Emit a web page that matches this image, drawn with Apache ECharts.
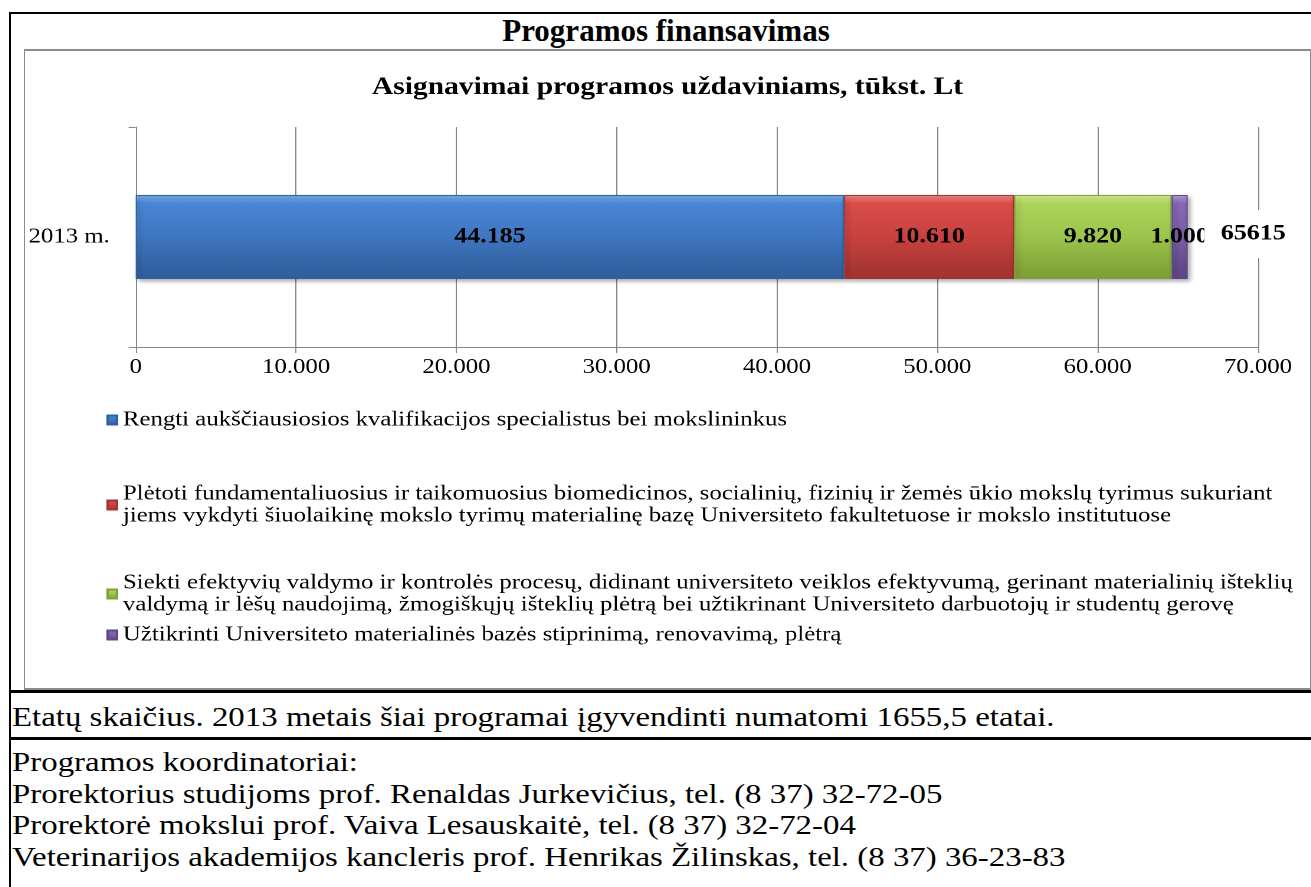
<!DOCTYPE html>
<html>
<head>
<meta charset="utf-8">
<script src="https://cdn.jsdelivr.net/npm/echarts@6/dist/echarts.min.js"></script>
<style>
  body { margin: 0; background: #fff; font-family: "Liberation Serif", "Times New Roman", serif; }
  .page { position: relative; width: 1311px; height: 887px; overflow: hidden; }
  .line { position: absolute; background: #000; }
  .txt { position: absolute; left: 12px; font-size: 28px; line-height: 31.5px; color: #000; white-space: nowrap;
         transform: scaleX(1.174); transform-origin: 0 0; }
  #box { position: absolute; left: 24px; top: 49px; width: 1285px; height: 637px;
         border-top: 2px solid #8c8c8c; border-bottom: 2px solid #8c8c8c;
         border-left: 1px solid #8c8c8c; border-right: 1px solid #8c8c8c; }
  /* Excel paveikslėlis ištemptas horizontaliai, todėl ir diagrama ištempiama */
  #chart { width: 1089px; height: 637px; transform: scaleX(1.18); transform-origin: 0 0; }
</style>
</head>
<body>
<div class="page">
  <div class="line" style="left:9px; top:12px; width:2px; height:875px"></div>
  <div class="line" style="left:9px; top:12px; width:1302px; height:2px"></div>
  <div style="position:absolute; left:11px; width:1310px; top:14px; text-align:center; font-weight:bold; font-size:31px; line-height:34px">Programos finansavimas</div>
  <div id="box"><div id="chart"></div></div>
  <div class="line" style="left:9px; top:690px; width:1302px; height:3px"></div>
  <div class="txt" style="top:701px">Etatų skaičius. 2013 metais šiai programai įgyvendinti numatomi 1655,5 etatai.</div>
  <div class="line" style="left:9px; top:737px; width:1302px; height:3px"></div>
  <div class="txt" style="top:746px">Programos koordinatoriai:<br>Prorektorius studijoms prof. Renaldas Jurkevičius, tel. (8 37) 32-72-05<br>Prorektorė mokslui prof. Vaiva Lesauskaitė, tel. (8 37) 32-72-04<br>Veterinarijos akademijos kancleris prof. Henrikas Žilinskas, tel. (8 37) 36-23-83</div>
</div>
<script>
// duomenys
const categories = ['2013 m.']
const seriesNames = [
  'Rengti aukščiausiosios kvalifikacijos specialistus bei mokslininkus',
  'Plėtoti fundamentaliuosius ir taikomuosius biomedicinos, socialinių, fizinių ir žemės ūkio mokslų tyrimus sukuriant\njiems vykdyti šiuolaikinę mokslo tyrimų materialinę bazę Universiteto fakultetuose ir mokslo institutuose',
  'Siekti efektyvių valdymo ir kontrolės procesų, didinant universiteto veiklos efektyvumą, gerinant materialinių išteklių\nvaldymą ir lėšų naudojimą, žmogiškųjų išteklių plėtrą bei užtikrinant Universiteto darbuotojų ir studentų gerovę',
  'Užtikrinti Universiteto materialinės bazės stiprinimą, renovavimą, plėtrą'
]
const rengti = [44185]
const pletoti = [10610]
const siekti = [9820]
const uztikrinti = [1000]
const xTicks = [0, 10000, 20000, 30000, 40000, 50000, 60000, 70000]

// spalvos ir legendos vietos
const colors = [
  ['#80b4f2', '#4a86d6', '#3f76c0', '#30609f'],
  ['#f78c8a', '#da4d4a', '#c8423f', '#a53532'],
  ['#def79a', '#abd45b', '#9dc44c', '#80a338'],
  ['#bca4e3', '#8868b6', '#7b5ca6', '#614787']
]
const legendTop = [358, 421, 510, 573]
const font = '"Liberation Serif", "Times New Roman", serif'

const fmt = v => {
  if (v < 1000) return String(v)
  const s = String(v)
  return s.slice(0, s.length - 3) + '.' + s.slice(s.length - 3)
}

const values = [rengti, pletoti, siekti, uztikrinti]
const totals = categories.map((c, i) => values.reduce((a, arr) => a + arr[i], 0))

const grad = c => new echarts.graphic.LinearGradient(0, 0, 0, 1, [
  { offset: 0, color: c[0] },
  { offset: 0.1, color: c[1] },
  { offset: 0.5, color: c[2] },
  { offset: 0.92, color: c[3] },
  { offset: 1, color: c[3] }
])

const series = values.map((arr, i) => ({
  name: seriesNames[i],
  type: 'bar',
  stack: 'total',
  barWidth: 84,
  data: arr,
  itemStyle: {
    color: grad(colors[i]),
    borderColor: colors[i][3],
    borderWidth: 1,
    shadowColor: 'rgba(0,0,0,0.35)',
    shadowBlur: 4,
    shadowOffsetX: 2,
    shadowOffsetY: 2
  },
  label: {
    show: true,
    position: 'inside',
    formatter: p => fmt(p.value),
    color: '#000',
    fontFamily: font,
    fontWeight: 'bold',
    fontSize: 22
  }
}))

// suma šalia juostos (baltas fonas uždengia tinklelį ir dalį "1.000")
series.push({
  type: 'scatter',
  symbolSize: 0,
  data: categories.map((c, i) => [totals[i], c]),
  itemStyle: { opacity: 1 },
  label: {
    show: true,
    position: 'right',
    distance: 14,
    formatter: p => String(p.value[0]),
    color: '#000',
    opacity: 1,
    fontFamily: font,
    fontWeight: 'bold',
    fontSize: 22,
    backgroundColor: '#fff',
    padding: [13, 6, 13, 14],
    offset: [0, -3]
  },
  z: 5
})

const option = {
  animation: false,
  title: {
    text: 'Asignavimai programos uždaviniams, tūkst. Lt',
    left: 'center',
    top: 19,
    textStyle: { fontFamily: font, fontWeight: 'bold', fontSize: 25, color: '#000' }
  },
  legend: seriesNames.map((n, i) => ({
    data: [n],
    left: 69,
    top: legendTop[i],
    padding: 0,
    icon: 'rect',
    itemWidth: 8,
    itemHeight: 9,
    selectedMode: false,
    textStyle: {
      fontFamily: font,
      fontSize: 21,
      color: '#000',
      lineHeight: 22,
      padding: n.indexOf('\n') >= 0 ? [22, 0, 0, 0] : 0
    }
  })),
  grid: { left: 92.4, right: 44.1, top: 76, height: 220 },
  xAxis: {
    type: 'value',
    min: xTicks[0],
    max: xTicks[xTicks.length - 1],
    interval: xTicks[1] - xTicks[0],
    axisLine: { show: true, lineStyle: { color: '#868686' } },
    axisTick: { show: true, length: 6, lineStyle: { color: '#868686' } },
    splitLine: { lineStyle: { color: '#868686' } },
    axisLabel: { formatter: fmt, margin: 10, color: '#000', fontFamily: font, fontSize: 21 }
  },
  yAxis: {
    type: 'category',
    data: categories,
    axisLine: { show: true, lineStyle: { color: '#868686' } },
    axisTick: { show: true, length: 6, lineStyle: { color: '#868686' } },
    axisLabel: { margin: 22, color: '#000', fontFamily: font, fontSize: 21 }
  },
  series: series
}

const chart = echarts.init(document.getElementById('chart'), null, { devicePixelRatio: 2 })
chart.setOption(option)
</script>
</body>
</html>
